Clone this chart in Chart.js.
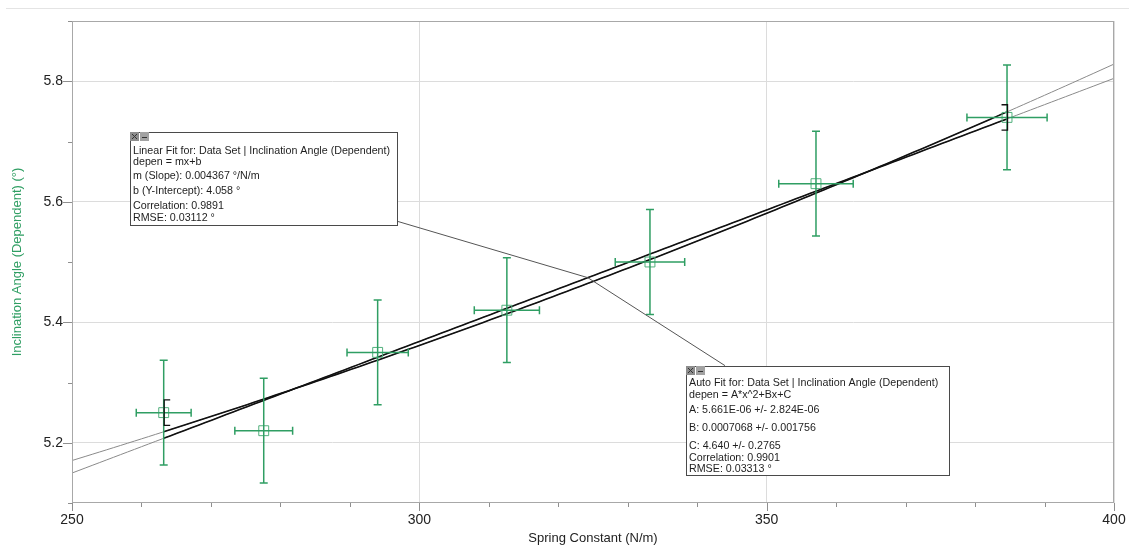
<!DOCTYPE html>
<html>
<head>
<meta charset="utf-8">
<script src="https://cdn.jsdelivr.net/npm/chart.js@4.4.1/dist/chart.umd.min.js"></script>
<style>
  html, body { margin: 0; padding: 0; background: #fff; }
  #wrap { position: relative; width: 1129px; height: 548px; }
  #rule { position: absolute; left: 6px; right: 0; top: 8px; border-top: 1px solid #e4e4e4; }
  canvas { position: absolute; left: 0; top: 0; }
</style>
</head>
<body>
<div id="wrap">
  <div id="rule"></div>
  <canvas id="c" width="1129" height="548"></canvas>
</div>
<script>
// Measured data: spring constant (N/m) vs inclination angle (°)
const springConstant   = [263.2, 277.6, 294.0, 312.6, 333.2, 357.1, 384.6];
const inclinationAngle = [5.25, 5.22, 5.35, 5.42, 5.50, 5.63, 5.74];
const springError      = [3.95, 4.16, 4.41, 4.69, 5.00, 5.36, 5.77];
const angleError       = [0.087, 0.087, 0.087, 0.087, 0.087, 0.087, 0.087];

// Axis ticks (every tick gets a mark, only labelled ones get text)
const xTickValues = [250, 260, 270, 280, 290, 300, 310, 320, 330, 340, 350, 360, 370, 380, 390, 400];
const xTickLabels = [250, 300, 350, 400];
const yTickValues = [5.1, 5.2, 5.3, 5.4, 5.5, 5.6, 5.7, 5.8, 5.9];
const yTickLabels = [5.2, 5.4, 5.6, 5.8];

// Fit parameters
const linearM = 0.004367, linearB = 4.058;
const quadA = 5.661e-6, quadB = 0.0007068, quadC = 4.640;
const curveStep = 1;   // sampling step for drawing fit curves (N/m)

const linearFitText = [
  'Linear Fit for: Data Set | Inclination Angle (Dependent)',
  'depen = mx+b',
  'm (Slope): 0.004367 °/N/m',
  'b (Y-Intercept): 4.058 °',
  'Correlation: 0.9891',
  'RMSE: 0.03112 °'
];
const autoFitText = [
  'Auto Fit for: Data Set | Inclination Angle (Dependent)',
  'depen = A*x^2+Bx+C',
  'A: 5.661E-06 +/- 2.824E-06',
  'B: 0.0007068 +/- 0.001756',
  'C: 4.640 +/- 0.2765',
  'Correlation: 0.9901',
  'RMSE: 0.03313 °'
];

const GREEN = '#2f9e63';
const FONT = "'Liberation Sans', Arial, sans-serif";

const linearY = x => linearM * x + linearB;
const quadY = x => quadA * x * x + quadB * x + quadC;

function curvePoints(f, x0, x1) {
  const pts = [];
  for (let x = x0; x < x1; x += curveStep) pts.push({ x, y: f(x) });
  pts.push({ x: x1, y: f(x1) });
  return pts;
}

const fitStart = springConstant[0];
const fitEnd = springConstant[springConstant.length - 1];
const xMin = xTickValues[0], xMax = xTickValues[xTickValues.length - 1];
const yMin = yTickValues[0], yMax = yTickValues[yTickValues.length - 1];

const points = springConstant.map((x, i) => ({ x, y: inclinationAngle[i] }));

// Annotation boxes, anchored at data coordinates (top-left corner)
const fitBoxes = [
  { x: 258.4, y: 5.716, w: 267, h: 93, lines: linearFitText, rows: [19, 30, 44, 59, 74, 86],
    lead: { x: 296.7, y: 5.568 } },
  { x: 338.4, y: 5.328, w: 263, h: 109, lines: autoFitText, rows: [17, 29, 44, 62, 80, 92, 103],
    lead: { x: 344.0, y: 5.328 } }
];
const leaderTarget = 324.25;

const decorations = {
  id: 'decorations',
  afterDatasetsDraw(chart) {
    const { ctx, chartArea: a } = chart;
    const xs = chart.scales.x, ys = chart.scales.y;
    const px = v => xs.getPixelForValue(v), py = v => ys.getPixelForValue(v);

    ctx.save();
    // frame
    ctx.strokeStyle = '#a8a8a8';
    ctx.lineWidth = 1;
    ctx.strokeRect(a.left + 0.5, a.top + 0.5, a.right - a.left - 1, a.bottom - a.top - 1);

    // tick marks
    ctx.strokeStyle = '#8f8f8f';
    ctx.beginPath();
    xTickValues.forEach(v => {
      const len = xTickLabels.includes(v) ? 8 : 4;
      const X = Math.round(px(v)) + 0.5;
      ctx.moveTo(X, a.bottom); ctx.lineTo(X, a.bottom + len);
    });
    yTickValues.forEach(v => {
      const len = yTickLabels.some(t => Math.abs(t - v) < 1e-9) ? 9 : 4;
      const Y = Math.round(py(v)) + 0.5;
      ctx.moveTo(a.left, Y); ctx.lineTo(a.left - len, Y);
    });
    ctx.stroke();

    // error bars
    ctx.strokeStyle = GREEN;
    ctx.lineWidth = 1.5;
    const cap = 4;
    points.forEach((p, i) => {
      const X = px(p.x), Y = py(p.y);
      const y0 = py(p.y - angleError[i]), y1 = py(p.y + angleError[i]);
      const x0 = px(p.x - springError[i]), x1 = px(p.x + springError[i]);
      ctx.beginPath();
      ctx.moveTo(X, y0); ctx.lineTo(X, y1);
      ctx.moveTo(X - cap, y0); ctx.lineTo(X + cap, y0);
      ctx.moveTo(X - cap, y1); ctx.lineTo(X + cap, y1);
      ctx.moveTo(x0, Y); ctx.lineTo(x1, Y);
      ctx.moveTo(x0, Y - cap); ctx.lineTo(x0, Y + cap);
      ctx.moveTo(x1, Y - cap); ctx.lineTo(x1, Y + cap);
      ctx.stroke();
    });

    // fit range brackets
    ctx.strokeStyle = '#111';
    ctx.lineWidth = 1.3;
    const brk = 0.021, serif = 6;
    [[0, 1], [points.length - 1, -1]].forEach(([i, dir]) => {
      const X = px(points[i].x) + 0.5;
      const yT = py(points[i].y + brk), yB = py(points[i].y - brk);
      ctx.beginPath();
      ctx.moveTo(X + dir * serif, yT); ctx.lineTo(X, yT);
      ctx.lineTo(X, yB); ctx.lineTo(X + dir * serif, yB);
      ctx.stroke();
    });

    // leader lines from boxes to the fit curves
    ctx.strokeStyle = '#555';
    ctx.lineWidth = 1;
    const tX = px(leaderTarget), tY = py(linearY(leaderTarget));
    fitBoxes.forEach(b => {
      ctx.beginPath();
      ctx.moveTo(px(b.lead.x), py(b.lead.y));
      ctx.lineTo(tX, tY);
      ctx.stroke();
    });

    // annotation boxes
    fitBoxes.forEach(b => {
      const L = Math.round(px(b.x)) + 0.5, T = Math.round(py(b.y)) + 0.5;
      ctx.fillStyle = '#fff';
      ctx.fillRect(L, T, b.w, b.h);
      ctx.strokeStyle = '#4a4a4a';
      ctx.lineWidth = 1;
      ctx.strokeRect(L, T, b.w, b.h);
      // window buttons
      ctx.fillStyle = '#8d8d8d';
      ctx.fillRect(L - 0.5, T - 0.5, 9, 9);
      ctx.fillStyle = '#a2a2a2';
      ctx.fillRect(L + 9.5, T - 0.5, 9, 9);
      ctx.strokeStyle = '#333';
      ctx.lineWidth = 1;
      ctx.beginPath();
      ctx.moveTo(L + 1.5, T + 1.5); ctx.lineTo(L + 6.5, T + 6.5);
      ctx.moveTo(L + 6.5, T + 1.5); ctx.lineTo(L + 1.5, T + 6.5);
      ctx.moveTo(L + 11.5, T + 5); ctx.lineTo(L + 16.5, T + 5);
      ctx.stroke();
      // text
      ctx.fillStyle = '#1e1e1e';
      ctx.font = '10.7px ' + FONT;
      ctx.textBaseline = 'middle';
      ctx.textAlign = 'left';
      b.lines.forEach((s, k) => ctx.fillText(s, L + 2.5, T + b.rows[k]));
    });
    ctx.restore();
  }
};

const isLabel = (list, v) => list.some(t => Math.abs(t - v) < 1e-9);

new Chart(document.getElementById('c'), {
  type: 'scatter',
  data: {
    datasets: [
      { data: curvePoints(linearY, xMin, xMax), showLine: true, borderColor: '#8a8a8a', borderWidth: 1, pointRadius: 0, order: 5 },
      { data: curvePoints(quadY, xMin, xMax), showLine: true, borderColor: '#8a8a8a', borderWidth: 1, pointRadius: 0, order: 5 },
      { data: curvePoints(linearY, fitStart, fitEnd), showLine: true, borderColor: '#111', borderWidth: 1.6, pointRadius: 0, order: 4 },
      { data: curvePoints(quadY, fitStart, fitEnd), showLine: true, borderColor: '#111', borderWidth: 1.6, pointRadius: 0, order: 4 },
      { data: points, showLine: false, pointStyle: 'rect', pointRadius: 7, borderWidth: 1,
        borderColor: '#52b07d', backgroundColor: 'rgba(0,0,0,0)', order: 1 }
    ]
  },
  options: {
    responsive: false,
    animation: false,
    layout: { padding: { top: 21, right: 15, left: 0, bottom: 0 } },
    plugins: { legend: { display: false }, tooltip: { enabled: false } },
    elements: { line: { tension: 0 } },
    scales: {
      x: {
        type: 'linear', min: xMin, max: xMax,
        afterBuildTicks: s => { s.ticks = xTickValues.map(v => ({ value: v })); },
        afterFit: s => { s.height = 45; s.paddingLeft = 0; s.paddingRight = 0; },
        ticks: {
          autoSkip: false, maxRotation: 0, padding: 9, color: '#222',
          font: { family: FONT, size: 14 },
          callback: v => isLabel(xTickLabels, v) ? String(v) : ''
        },
        grid: {
          drawTicks: false,
          color: c => (c.tick && isLabel(xTickLabels, c.tick.value)) ? '#dcdcdc' : 'rgba(0,0,0,0)'
        },
        border: { display: false },
        title: { display: true, text: 'Spring Constant (N/m)', color: '#222',
                 font: { family: FONT, size: 13 }, padding: { top: 0, bottom: 2 } }
      },
      y: {
        type: 'linear', min: yMin, max: yMax,
        afterBuildTicks: s => { s.ticks = yTickValues.map(v => ({ value: v })); },
        afterFit: s => { s.width = 72; s.paddingTop = 0; s.paddingBottom = 0; },
        ticks: {
          autoSkip: false, padding: 9, color: '#222',
          font: { family: FONT, size: 14 },
          callback: v => isLabel(yTickLabels, v) ? v.toFixed(1) : ''
        },
        grid: {
          drawTicks: false,
          color: c => (c.tick && isLabel(yTickLabels, c.tick.value)) ? '#dcdcdc' : 'rgba(0,0,0,0)'
        },
        border: { display: false },
        title: { display: true, text: 'Inclination Angle (Dependent) (°)', color: GREEN,
                 font: { family: FONT, size: 13 }, padding: { top: 10, bottom: 0 } }
      }
    }
  },
  plugins: [decorations]
});
</script>
</body>
</html>
